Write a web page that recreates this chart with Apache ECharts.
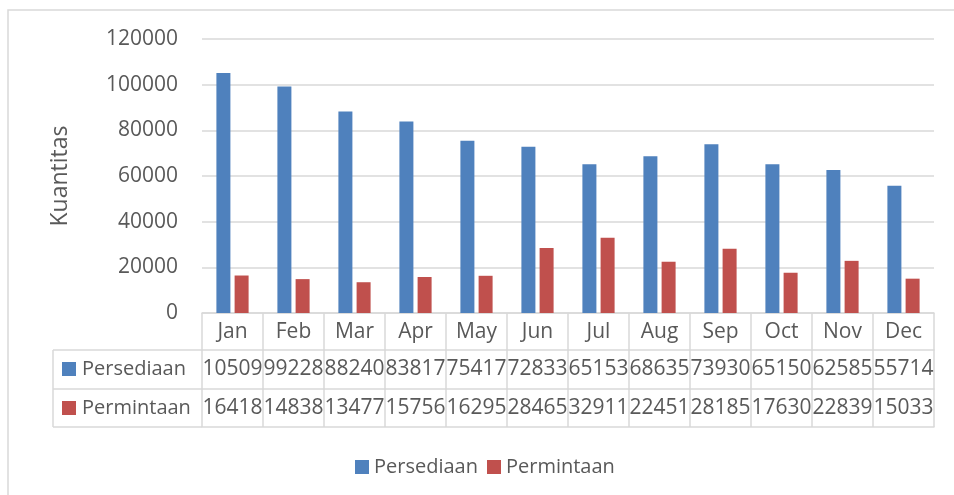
<!DOCTYPE html>
<html>
<head>
<meta charset="utf-8">
<script src="https://cdn.jsdelivr.net/npm/echarts@6/dist/echarts.min.js"></script>
<style>
  html, body { margin: 0; padding: 0; background: #fff; }
  #chart_1 { width: 954px; height: 495px; }
</style>
</head>
<body>
<div id="chart_1"></div>
<script>
// data
var months = ['Jan', 'Feb', 'Mar', 'Apr', 'May', 'Jun', 'Jul', 'Aug', 'Sep', 'Oct', 'Nov', 'Dec'];
var persediaan = [105095, 99228, 88240, 83817, 75417, 72833, 65153, 68635, 73930, 65150, 62585, 55714];
var permintaan = [16418, 14838, 13477, 15756, 16295, 28465, 32911, 22451, 28185, 17630, 22839, 15033];
var seriesNames = ['Persediaan', 'Permintaan'];
var colorArray = ['#4f81bd', '#c0504d'];
var yTicks = { min: 0, max: 120000, interval: 20000 };

var font = 'Open Sans';
var textColor = '#595959';
var lineColor = '#d9d9d9';

var chart = echarts.init(document.getElementById('chart_1'), null, { renderer: 'canvas' });

// one extra x axis per table row, all sharing the category scale
function tableAxis(offset, tickLen, values, margin) {
  return {
    type: 'category',
    data: months,
    position: 'bottom',
    offset: offset,
    axisLine: { show: true, lineStyle: { color: lineColor, width: 1.5 } },
    axisTick: { show: tickLen > 0, length: tickLen, interval: 0, lineStyle: { color: lineColor, width: 1.5 } },
    axisLabel: {
      show: !!values,
      interval: 0,
      margin: margin,
      verticalAlign: 'middle',
      fontFamily: font,
      fontSize: 21,
      color: textColor,
      width: 62,
      overflow: 'truncate',
      ellipsis: '',
      formatter: function (v, i) { return values ? String(values[i]) : ''; }
    },
    splitLine: { show: false }
  };
}

var graphics = [
  // outer chart border
  { type: 'rect', shape: { x: 8, y: 10, width: 960, height: 500 }, style: { fill: 'none', stroke: lineColor, lineWidth: 1.5 }, silent: true },
  // row header cells of the data table
  { type: 'line', shape: { x1: 53, y1: 350, x2: 202, y2: 350 }, style: { stroke: lineColor, lineWidth: 1.5 } },
  { type: 'line', shape: { x1: 53, y1: 389, x2: 202, y2: 389 }, style: { stroke: lineColor, lineWidth: 1.5 } },
  { type: 'line', shape: { x1: 53, y1: 427, x2: 202, y2: 427 }, style: { stroke: lineColor, lineWidth: 1.5 } },
  { type: 'line', shape: { x1: 53, y1: 350, x2: 53, y2: 427 }, style: { stroke: lineColor, lineWidth: 1.5 } }
];
var rowY = [369, 408];
for (var i = 0; i < seriesNames.length; i++) {
  graphics.push({ type: 'rect', shape: { x: 62, y: rowY[i] - 7, width: 14, height: 14 }, style: { fill: colorArray[i] } });
  graphics.push({
    type: 'text', x: 82, y: rowY[i],
    style: { text: seriesNames[i], font: '20px "' + font + '"', fill: textColor, textVerticalAlign: 'middle' }
  });
}

chart.setOption({
  animation: false,
  grid: { left: 202, right: 20, top: 39, bottom: 182 },
  legend: {
    left: 350,
    top: 452,
    itemWidth: 14,
    itemHeight: 14,
    itemGap: 9,
    icon: 'rect',
    data: seriesNames,
    textStyle: { fontFamily: font, fontSize: 20, color: textColor }
  },
  xAxis: [
    tableAxis(0, 37, months, 19),
    tableAxis(37, 39, persediaan, 19),
    tableAxis(76, 38, permintaan, 19),
    tableAxis(114, 0, null, 0)
  ],
  yAxis: {
    type: 'value',
    min: yTicks.min,
    max: yTicks.max,
    interval: yTicks.interval,
    name: 'Kuantitas',
    nameLocation: 'middle',
    nameGap: 130,
    nameTextStyle: { fontFamily: font, fontSize: 23, color: textColor },
    axisLine: { show: false },
    axisTick: { show: false },
    axisLabel: {
      margin: 24, fontFamily: font, fontSize: 21, color: textColor,
      formatter: function (v) { return String(v); }
    },
    splitLine: { lineStyle: { color: lineColor, width: 1.5 } }
  },
  series: [
    { name: seriesNames[0], type: 'bar', xAxisIndex: 0, barWidth: 14, barGap: '30%', data: persediaan, itemStyle: { color: colorArray[0] } },
    { name: seriesNames[1], type: 'bar', xAxisIndex: 0, barWidth: 14, barGap: '30%', data: permintaan, itemStyle: { color: colorArray[1] } }
  ],
  graphic: graphics
});
</script>
</body>
</html>
